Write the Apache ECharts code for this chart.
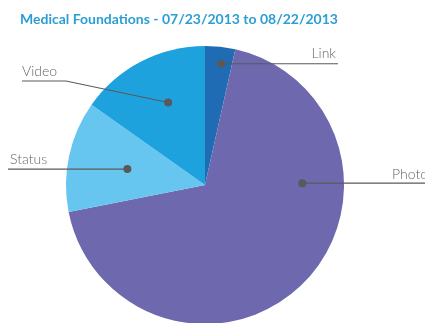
<!DOCTYPE html>
<html>
<head>
<meta charset="utf-8">
<script src="https://cdn.jsdelivr.net/npm/echarts@6/dist/echarts.min.js"></script>
<style>
  html, body { margin: 0; padding: 0; background: #fff; }
  #chart { width: 425px; height: 323px; }
</style>
</head>
<body>
<div id="chart"></div>
<script>
const categories = ['Link', 'Photo', 'Status', 'Video']
const shares = [3.5, 68.4, 12.9, 15.2]
const sliceColors = ['#1f6cb5', '#6e69ae', '#66c6f0', '#1ea2dd']

const center = [205, 185]
const radius = 139

// dot spot per slice: [fraction through the slice, fraction of radius]
const dotPlace = [[0.6, 0.88], [0.31, 0.7], [0.49, 0.57], [0.56, 0.65]]
// label text anchor and where its leader line goes after the dot
const labelPlace = [
  { x: 336, y: 53, align: 'right', bend: null, end: [338, null] },
  { x: 392, y: 174, align: 'left', bend: null, end: [425, null] },
  { x: 10, y: 159, align: 'left', bend: null, end: [8, null] },
  { x: 22, y: 71, align: 'left', bend: [66, 81], end: [22, 81] }
]

const total = shares.reduce((a, b) => a + b, 0)
let acc = 0
const dotAngle = shares.map((v, i) => {
  const a = (acc + v * dotPlace[i][0]) / total * 360
  acc += v
  return a
})

function renderCallout (params, api) {
  const i = params.dataIndex
  const p = labelPlace[i]
  const d = api.coord([api.value(0), api.value(1)])
  const end = [p.end[0], p.end[1] == null ? d[1] : p.end[1]]
  const bend = p.bend || end
  return {
    type: 'group',
    children: [
      {
        type: 'polyline',
        shape: { points: [d, bend, end] },
        style: { stroke: '#5a5a5a', lineWidth: 1.2, fill: null }
      },
      {
        type: 'circle',
        shape: { cx: d[0], cy: d[1], r: 4 },
        style: { fill: '#595959' }
      },
      {
        type: 'text',
        x: p.x,
        y: p.y,
        style: {
          text: categories[i],
          fill: '#666',
          font: '300 14px Lato',
          align: p.align,
          verticalAlign: 'middle'
        }
      }
    ]
  }
}

const chart = echarts.init(document.getElementById('chart'))
chart.setOption({
  animation: false,
  title: {
    text: 'Medical Foundations - 07/23/2013 to 08/22/2013',
    left: 20,
    top: 12,
    padding: 0,
    textStyle: { color: '#2b9fd4', fontSize: 14, fontWeight: 'bold', fontFamily: 'Lato' }
  },
  polar: { center: center, radius: radius },
  angleAxis: { type: 'value', min: 0, max: 360, startAngle: 90, clockwise: true, show: false },
  radiusAxis: { type: 'value', min: 0, max: 1, show: false },
  series: [
    {
      type: 'pie',
      center: center,
      radius: radius,
      startAngle: 90,
      clockwise: true,
      itemStyle: { borderWidth: 0 },
      label: { show: false },
      labelLine: { show: false },
      data: categories.map((name, i) => ({
        name: name,
        value: shares[i],
        itemStyle: { color: sliceColors[i] }
      }))
    },
    {
      type: 'custom',
      coordinateSystem: 'polar',
      z: 10,
      renderItem: renderCallout,
      data: dotAngle.map((a, i) => [dotPlace[i][1], a])
    }
  ]
})
</script>
</body>
</html>
